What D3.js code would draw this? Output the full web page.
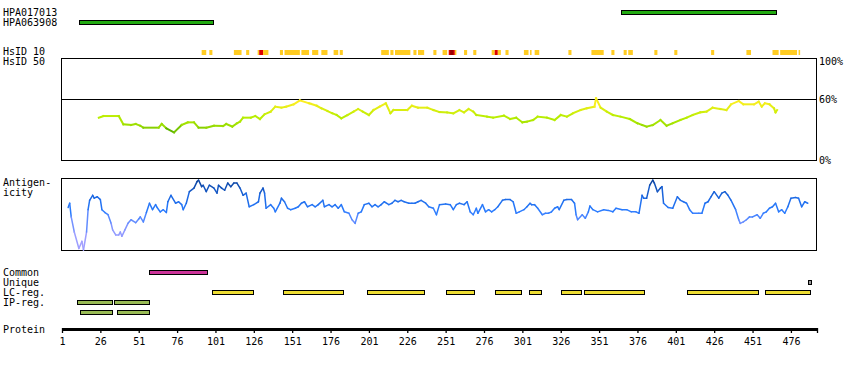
<!DOCTYPE html>
<html><head><meta charset="utf-8">
<script src="https://cdn.jsdelivr.net/npm/d3@7"></script>
<style>
body{margin:0;background:#fff;}
svg text{font-family:"DejaVu Sans Mono",monospace;font-size:10px;fill:#000;}
</style></head>
<body><svg id="c" width="850" height="370"></svg>
<script>
// ---------- DATA ----------
const proteinLength = 493;
const tickValues = [1,26,51,76,101,126,151,176,201,226,251,276,301,326,351,376,401,426,451,476,493];

const antibodyNames = ["HPA017013","HPA063908"];
const antibodyStart = [365,12];
const antibodyEnd   = [466,99];

// HsID 10 conservation blocks (level 0 = yellow, 1 = red, 2 = dark red)
const hs10Start = [92,97,113,121,128.5,129.5,132,143,146,157,164,170,178,182,209,215,218,230,233,243,249,253,254,257,263,269,281,283,285,290,302,306,309,331,346,359,367,370,387,400,424,447,464,469,481];
const hs10End   = [95,99,118,123,129.5,132,135.5,145,156,162,168,174,181,184,214,217,228,232,237,245,252,257,256,258,265,271,283,285,287,292,305,307,312,333,354,361,369,373,389,402,426,450,468,480,482];
const hs10Level = [0,0,0,0,0,1,0,0,0,0,0,0,0,0,0,0,0,0,0,0,0,1,2,0,0,0,0,1,0,0,0,0,0,0,0,0,0,0,0,0,0,0,0,0,0];

// HsID 50 identity curve (% identity)
const hs50Res = [25,28,38,41,46,49,52,54,64,66,69,74,79,83,87,90,95,100,106,108,112,115,117,119,124,127,130,133,137,140,144,147,152,156,162,167,170,174,177,180,183,187,191,194,197,201,204,208,212,215,217,226,229,233,239,243,247,252,256,260,263,266,269,271,278,282,289,293,297,301,304,308,311,317,322,326,330,334,339,343,348,349,352,356,360,365,371,376,379,382,386,391,395,399,404,408,412,417,421,425,430,434,437,442,445,452,455,457,459,462,465,466,467];
const hs50Val = [41.5,43.1,43.1,35,34.3,35.3,33.6,31.7,31.7,35.3,31,27.1,34.3,36.9,36.9,31.7,31.7,33.6,33.3,35.3,32.7,36,37.6,41.5,41.5,43.1,40.2,44.8,47.4,52.3,51.3,52.3,54.6,58.5,55.6,53.2,50.7,48,45.8,44.1,40.9,44.1,47.4,50,47.4,44.1,49,52.3,55.6,45.8,49,49,53.2,51.3,51.3,49,47,46.7,45.8,49,46.7,50,47.4,44.1,42.5,41.5,43.5,40.2,41.5,36.9,37.6,39.2,42.5,41.5,39.2,44.1,42.5,45.8,49,50.7,52.3,60.5,51.3,47.4,44.1,42.5,40.2,36,34.3,32.7,34.3,39.2,33.6,36,39.2,41.5,44.1,46.7,47.4,51.3,50,49,54.6,57.8,54.6,54.6,57.2,52.3,55.6,54.6,50.7,46.7,49];

// Antigenicity curve (relative score 0..1)
const agRes = [5,6,7,9,12,14,15,17,18,19,21,22,24,26,27,29,31,33,34,36,38,39,40,42,44,46,49,51,52,54,56,58,60,62,63,65,67,69,70,72,75,77,79,80,82,84,87,89,90,92,93,95,97,100,102,103,105,107,109,111,113,115,117,119,121,123,126,129,130,132,133,134,137,139,140,143,144,146,148,150,153,155,157,159,161,164,166,168,171,172,175,177,179,181,183,185,188,190,192,194,196,198,201,203,205,207,209,211,214,216,218,220,222,224,227,229,231,233,235,238,240,243,245,247,251,254,256,258,260,263,265,267,269,271,272,275,277,279,281,283,285,288,290,293,295,297,299,302,304,306,307,309,311,314,316,318,320,322,324,325,328,330,333,335,336,337,340,342,344,345,347,350,354,357,360,362,366,369,372,375,377,379,380,382,384,386,387,389,391,392,393,396,399,402,404,406,408,410,412,416,418,420,422,424,426,429,431,433,435,437,440,442,443,445,447,449,451,454,456,458,460,462,464,466,468,470,472,474,476,479,481,483,485,487];
const agVal = [0.59,0.65,0.46,0.25,0.02,0.12,0.0,0.25,0.56,0.69,0.76,0.72,0.74,0.70,0.56,0.52,0.49,0.37,0.28,0.21,0.21,0.25,0.19,0.28,0.37,0.42,0.38,0.43,0.46,0.39,0.52,0.65,0.56,0.63,0.59,0.53,0.56,0.52,0.67,0.76,0.65,0.67,0.63,0.56,0.65,0.81,0.86,0.95,0.97,0.88,0.90,0.81,0.90,0.86,0.79,0.90,0.86,0.83,0.93,0.88,0.93,0.93,0.86,0.76,0.79,0.60,0.63,0.67,0.79,0.86,0.79,0.58,0.63,0.58,0.53,0.65,0.72,0.67,0.58,0.56,0.58,0.60,0.65,0.67,0.60,0.63,0.60,0.63,0.69,0.60,0.63,0.60,0.63,0.58,0.63,0.53,0.51,0.42,0.37,0.51,0.53,0.63,0.65,0.60,0.63,0.60,0.63,0.67,0.63,0.65,0.69,0.67,0.69,0.67,0.65,0.65,0.65,0.67,0.69,0.65,0.60,0.58,0.49,0.63,0.64,0.63,0.56,0.63,0.65,0.63,0.67,0.53,0.49,0.58,0.51,0.63,0.53,0.56,0.53,0.56,0.60,0.69,0.70,0.70,0.67,0.51,0.53,0.56,0.60,0.65,0.63,0.63,0.58,0.49,0.51,0.51,0.53,0.58,0.60,0.56,0.69,0.70,0.70,0.65,0.49,0.42,0.49,0.44,0.53,0.61,0.56,0.53,0.56,0.55,0.53,0.58,0.56,0.56,0.53,0.53,0.51,0.76,0.72,0.72,0.90,0.97,0.93,0.81,0.86,0.88,0.65,0.59,0.58,0.74,0.69,0.67,0.65,0.56,0.51,0.51,0.51,0.65,0.67,0.74,0.81,0.72,0.79,0.81,0.76,0.69,0.56,0.42,0.37,0.39,0.42,0.46,0.46,0.49,0.44,0.51,0.53,0.58,0.60,0.65,0.53,0.56,0.51,0.60,0.72,0.73,0.72,0.60,0.67,0.65];

// Feature rows
const commonStart = [58], commonEnd = [96];
const uniqueStart = [487], uniqueEnd = [489];
const lcStart = [99,145,200,251,283,305,326,341,408,459];
const lcEnd   = [126,184,237,269,300,313,339,380,454,488];
const ipStart1 = [11,35], ipEnd1 = [34,58];
const ipStart2 = [13,37], ipEnd2 = [34,58];

const leftLabels = ["HPA017013","HPA063908","HsID 10","HsID 50","Antigen-","icity","Common","Unique","LC-reg.","IP-reg.","Protein"];
const pctLabels = ["100%","60%","0%"];

// ---------- DRAW ----------
const svg = d3.select("#c");
const x = d3.scaleLinear().domain([1, proteinLength]).range([62, 817]);
const hsY = d3.scaleLinear().domain([0,100]).range([160,58]);
const agY = d3.scaleLinear().domain([0,1]).range([250,178]);
const px = v => Math.round(x(v)) + 0.5;

// left labels
const labelY = [16,26,55,65,186,196,276,286,296,306,333];
leftLabels.forEach((t,i)=> svg.append("text").attr("x",3).attr("y",labelY[i]).text(t));

// antibody bars
const abY = [10.5,20.5];
antibodyNames.forEach((n,i)=>{
  svg.append("rect").attr("x",px(antibodyStart[i])).attr("y",abY[i])
    .attr("width",Math.round(x(antibodyEnd[i])-x(antibodyStart[i]))).attr("height",4)
    .attr("fill","#22aa11").attr("stroke","#000").attr("stroke-width",1);
});

// HsID 10
const hs10Colors = ["#ffcc22","#dd0000","#990000"];
hs10Start.forEach((s,i)=>{
  svg.append("rect").attr("x",x(s)).attr("y",50)
    .attr("width",Math.max(1,x(hs10End[i])-x(s))).attr("height",5)
    .attr("fill",hs10Colors[hs10Level[i]]);
});

// HsID 50 box
svg.append("rect").attr("x",61.5).attr("y",58.5).attr("width",755).attr("height",102)
  .attr("fill","none").attr("stroke","#000").attr("stroke-width",1);
svg.append("line").attr("x1",61.5).attr("x2",816.5).attr("y1",Math.round(hsY(60))+0.5).attr("y2",Math.round(hsY(60))+0.5)
  .attr("stroke","#000").attr("stroke-width",1);
const pctY = [65,103,164];
pctLabels.forEach((t,i)=> svg.append("text").attr("x",819).attr("y",pctY[i]).text(t));

const hsColor = d3.scaleLinear().domain([27,33,42,50,58])
  .range(["#44a000","#99dd00","#b8ee00","#ddee11","#ffee22"]);
for(let i=0;i<hs50Res.length-1;i++){
  svg.append("line").attr("x1",x(hs50Res[i])).attr("y1",hsY(hs50Val[i]))
    .attr("x2",x(hs50Res[i+1])).attr("y2",hsY(hs50Val[i+1]))
    .attr("stroke",hsColor((hs50Val[i]+hs50Val[i+1])/2)).attr("stroke-width",2)
    .attr("stroke-linecap","square");
}

// Antigenicity box
svg.append("rect").attr("x",61.5).attr("y",178.5).attr("width",755).attr("height",72)
  .attr("fill","none").attr("stroke","#000").attr("stroke-width",1);
const agColor = d3.scaleLinear().domain([0,0.3,0.55,0.75,1])
  .range(["#aaa2ff","#8a98ff","#2a7cff","#1a66e0","#0a3c90"]);
for(let i=0;i<agRes.length-1;i++){
  svg.append("line").attr("x1",x(agRes[i])).attr("y1",agY(agVal[i]))
    .attr("x2",x(agRes[i+1])).attr("y2",agY(agVal[i+1]))
    .attr("stroke",agColor((agVal[i]+agVal[i+1])/2)).attr("stroke-width",1.5)
    .attr("stroke-linecap","round");
}

// Feature rows
function bars(starts, ends, y, fill){
  starts.forEach((s,i)=>{
    svg.append("rect").attr("x",px(s)).attr("y",y)
      .attr("width",Math.max(2,Math.round(x(ends[i])-x(s)))).attr("height",4)
      .attr("fill",fill).attr("stroke","#000").attr("stroke-width",1);
  });
}
bars(commonStart, commonEnd, 270.5, "#cc3399");
bars(uniqueStart, uniqueEnd, 280.5, "#999999");
bars(lcStart, lcEnd, 290.5, "#eedd33");
bars(ipStart1, ipEnd1, 300.5, "#99bb55");
bars(ipStart2, ipEnd2, 310.5, "#99bb55");

// Protein axis
svg.append("rect").attr("x",x(1)).attr("y",328).attr("width",x(proteinLength)-x(1)).attr("height",3).attr("fill","#000");
const axis = d3.axisBottom(x).tickValues(tickValues).tickSize(5).tickSizeOuter(0).tickPadding(5)
  .tickFormat(d => d === proteinLength ? "" : d);
const ag = svg.append("g").attr("transform","translate(0,328)").call(axis);
ag.select(".domain").remove();
ag.selectAll(".tick line").attr("stroke","#000").attr("stroke-width",1.3);
ag.selectAll(".tick text").style("font-family","'DejaVu Sans Mono',monospace").style("font-size","10px").attr("fill","#000");
</script></body></html>
